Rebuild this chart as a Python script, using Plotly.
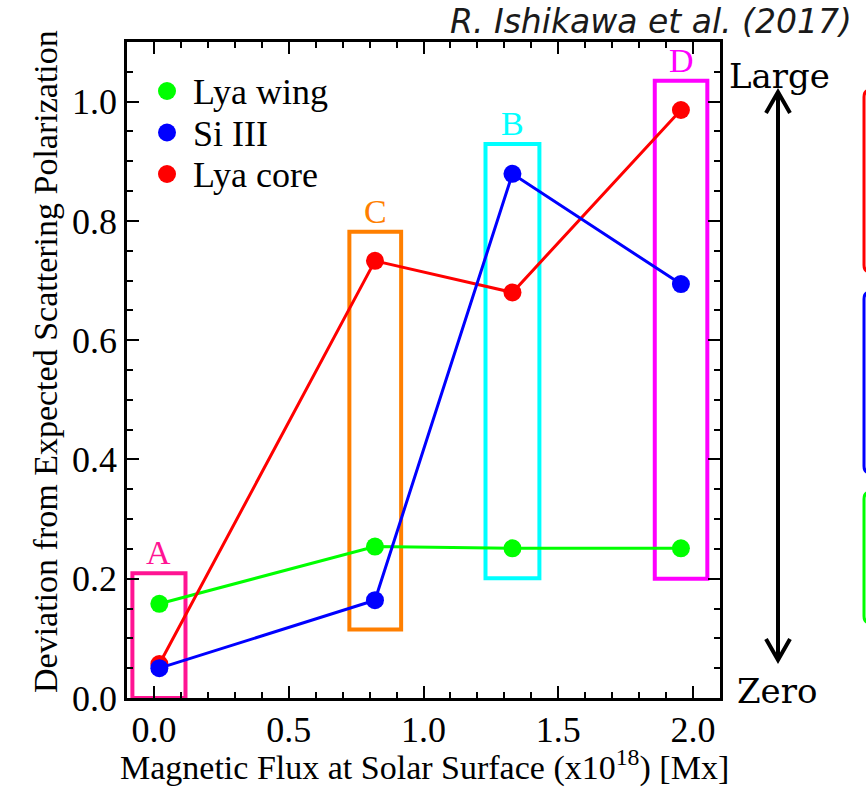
import plotly.graph_objects as go

# ---------------- data ----------------
flux = [0.02, 0.82, 1.33, 1.955]
lya_wing = [0.158, 0.254, 0.251, 0.251]
si_iii = [0.050, 0.164, 0.879, 0.694]
lya_core = [0.057, 0.733, 0.680, 0.986]

series_names = ["Lya wing", "Si III", "Lya core"]
series_colors = ["#00FF00", "#0000FF", "#FF0000"]

region_labels = ["A", "C", "B", "D"]
region_x0 = [-0.08, 0.725, 1.23, 1.858]
region_x1 = [0.117, 0.917, 1.43, 2.053]
region_y0 = [0.0, 0.115, 0.201, 0.200]
region_y1 = [0.209, 0.782, 0.929, 1.035]
region_colors = ["#FF1493", "#FF7F00", "#00FFFF", "#FF00FF"]

x_ticks = [0.0, 0.5, 1.0, 1.5, 2.0]
x_ticktext = ["0.0", "0.5", "1.0", "1.5", "2.0"]
y_ticks = [0.0, 0.2, 0.4, 0.6, 0.8, 1.0]
y_ticktext = ["0.0", "0.2", "0.4", "0.6", "0.8", "1.0"]

W, H = 866, 788
ML, MR, MT, MB = 127, 146, 42, 90
PW, PH = W - ML - MR, H - MT - MB

SERIF = "Liberation Serif"


def px(x):
    return (x - ML) / PW


def py(y):
    return (H - MB - y) / PH


fig = go.Figure()

series_values = [lya_wing, si_iii, lya_core]
# data traces: green, red, blue (blue on top)
for idx in [0, 2, 1]:
    fig.add_trace(go.Scatter(x=flux, y=series_values[idx], mode="lines+markers",
                             name=series_names[idx], showlegend=False,
                             line=dict(color=series_colors[idx], width=3),
                             marker=dict(color=series_colors[idx], size=18)))

shapes = []
annotations = []
for lab, x0, x1, y0, y1, col in zip(region_labels, region_x0, region_x1,
                                   region_y0, region_y1, region_colors):
    shapes.append(dict(type="rect", xref="x", yref="y", x0=x0, x1=x1, y0=y0, y1=y1,
                       line=dict(color=col, width=4), layer="below"))
    annotations.append(dict(xref="x", yref="y", x=(x0 + x1) / 2, y=y1, text=lab,
                            showarrow=False, yanchor="bottom", xanchor="center",
                            font=dict(family=SERIF, size=34, color=col)))

# manual legend (markers + labels)
for i, (name, col) in enumerate(zip(series_names, series_colors)):
    ly = 91 + 41.5 * i
    shapes.append(dict(type="circle", xref="paper", yref="paper",
                       xsizemode="pixel", ysizemode="pixel",
                       xanchor=px(167), yanchor=py(ly), x0=-9, x1=9, y0=-9, y1=9,
                       fillcolor=col, line=dict(width=0)))
    annotations.append(dict(xref="paper", yref="paper", x=px(191), y=py(ly + 1),
                            text=name, showarrow=False, xanchor="left",
                            yanchor="middle",
                            font=dict(family=SERIF, size=36, color="black")))

# arrow on the right side
ax = 778
shapes.append(dict(type="line", xref="paper", yref="paper", x0=px(ax), x1=px(ax),
                   y0=py(93), y1=py(659), line=dict(color="black", width=4)))
for tip, base in [(92, 113), (660, 639)]:
    path = "M {} {} L {} {} L {} {}".format(px(ax - 12), py(base), px(ax), py(tip),
                                            px(ax + 12), py(base))
    shapes.append(dict(type="path", xref="paper", yref="paper", path=path,
                       line=dict(color="black", width=4)))


def rounded(x0, y0, x1, y1, r):
    p = [
        "M {} {}".format(px(x0 + r), py(y0)),
        "L {} {}".format(px(x1), py(y0)),
        "L {} {}".format(px(x1), py(y1)),
        "L {} {}".format(px(x0 + r), py(y1)),
        "Q {} {} {} {}".format(px(x0), py(y1), px(x0), py(y1 - r)),
        "L {} {}".format(px(x0), py(y0 + r)),
        "Q {} {} {} {}".format(px(x0), py(y0), px(x0 + r), py(y0)),
    ]
    return " ".join(p)


for (y0, y1), col in zip([(90, 272), (292, 473), (492, 623)],
                         ["#FF0000", "#0000FF", "#00FF00"]):
    shapes.append(dict(type="path", xref="paper", yref="paper",
                       path=rounded(864, y0, 920, y1, 7),
                       line=dict(color=col, width=3)))

annotations.append(dict(xref="paper", yref="paper", x=px(779), y=py(76), text="Large",
                        showarrow=False, xanchor="center", yanchor="middle",
                        font=dict(family="DejaVu Serif", size=34, color="black")))
annotations.append(dict(xref="paper", yref="paper", x=px(777), y=py(691), text="Zero",
                        showarrow=False, xanchor="center", yanchor="middle",
                        font=dict(family="DejaVu Serif", size=34, color="black")))
annotations.append(dict(xref="paper", yref="paper", x=px(854), y=py(22),
                        text="<i>R. Ishikawa et al. (2017)</i>",
                        showarrow=False, xanchor="right", yanchor="middle",
                        font=dict(family="DejaVu Sans", size=33, color="#1a1a1a")))

# axis titles
annotations.append(dict(xref="paper", yref="paper", x=px(424), y=py(765),
                        text="Magnetic Flux at Solar Surface (x10<sup>18</sup>) [Mx]",
                        showarrow=False, xanchor="center", yanchor="middle",
                        font=dict(family=SERIF, size=34, color="black")))
annotations.append(dict(xref="paper", yref="paper", x=px(45), y=py(362),
                        text="Deviation from Expected Scattering Polarization",
                        textangle=-90, showarrow=False, xanchor="center",
                        yanchor="middle",
                        font=dict(family=SERIF, size=34, color="black")))

axis_common = dict(showline=True, linewidth=2.5, linecolor="black", mirror="ticks",
                   ticks="inside", ticklen=12, tickwidth=2, tickcolor="black",
                   showgrid=False, zeroline=False,
                   tickfont=dict(family=SERIF, size=36, color="black"))

fig.update_layout(
    width=W, height=H,
    margin=dict(l=ML, r=MR, t=MT, b=MB, autoexpand=False),
    paper_bgcolor="white", plot_bgcolor="white",
    font=dict(family=SERIF, color="black"),
    showlegend=False,
    xaxis=dict(range=[-0.1, 2.1], tickmode="array", tickvals=x_ticks, ticktext=x_ticktext,
               minor=dict(dtick=0.1, tick0=0, ticks="inside", ticklen=6, tickwidth=2,
                          tickcolor="black"),
               ticklabelstandoff=-2,
               **axis_common),
    yaxis=dict(range=[0, 1.1], tickmode="array", tickvals=y_ticks, ticktext=y_ticktext,
               minor=dict(dtick=0.05, tick0=0, ticks="inside", ticklen=6, tickwidth=2,
                          tickcolor="black"),
               **axis_common),
    shapes=shapes,
    annotations=annotations,
)

fig.write_html("out.html")
